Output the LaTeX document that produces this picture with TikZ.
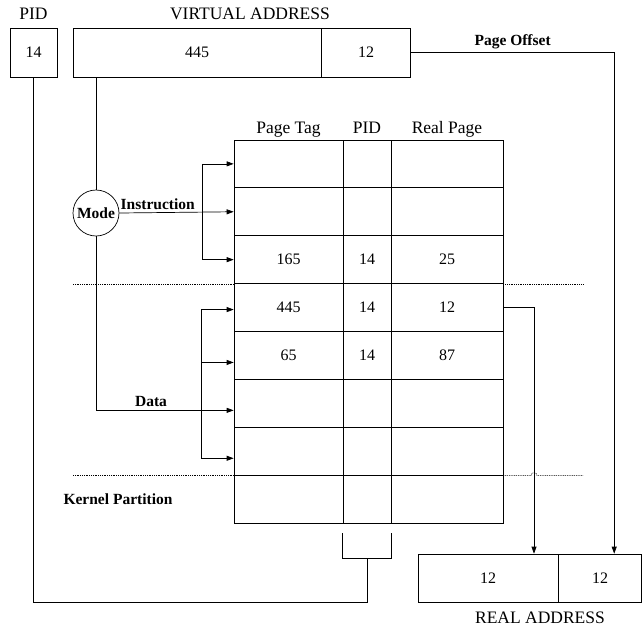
\documentclass[tikz,border=0pt]{standalone}
\usepackage{fontspec}
\setmainfont{Liberation Serif}
\usetikzlibrary{matrix, arrows.meta, positioning}

\begin{document}
\begin{tikzpicture}[
        x=1pt, y=-1pt,
        line width=0.7pt,
        >={Triangle[length=7pt, width=5pt]},
        every node/.style={font=\fontsize{16}{19}\selectfont},
        caixa/.style={draw, inner sep=0pt, minimum height=49pt},
        titulo/.style={anchor=base, font=\fontsize{17.5}{20}\selectfont},
        rotulo/.style={font=\fontsize{15.5}{18}\selectfont\bfseries},
        particao/.style={line width=0.5pt, dash pattern=on 1pt off 0.8pt},
        tabela/.style={matrix of nodes, nodes in empty cells,
            nodes={draw, inner sep=0pt, minimum height=47.9pt, anchor=center},
            column 1/.style={nodes={minimum width=109pt}},
            column 2/.style={nodes={minimum width=48pt}},
            column 3/.style={nodes={minimum width=112pt}},
            column sep=-\pgflinewidth, row sep=-\pgflinewidth}
    ]
    \useasboundingbox (0,0) rectangle (642,630);

    % endereco virtual
    \node[caixa, minimum width=47pt] (pid) at (33.5,52.5) {14};
    \node[caixa, minimum width=248pt] (vpag) at (197,52.5) {445};
    \node[caixa, minimum width=89pt, anchor=west] (vdesl) at (vpag.east) {12};
    \node[titulo] at ([yshift=8pt]pid.north) {PID};
    \node[titulo] at ([xshift=53pt, yshift=8pt]vpag.north) {VIRTUAL ADDRESS};

    % tabela de paginas
    \matrix (tlb) [tabela] at (368.5,331.5) {
          &    &    \\
          &    &    \\
      165 & 14 & 25 \\
      445 & 14 & 12 \\
      65  & 14 & 87 \\
          &    &    \\
          &    &    \\
          &    &    \\
    };
    \node[titulo] at ([yshift=6pt]tlb-1-1.north) {Page Tag};
    \node[titulo] at ([yshift=6pt]tlb-1-2.north) {PID};
    \node[titulo] at ([yshift=6pt]tlb-1-3.north) {Real Page};

    % endereco real
    \node[caixa, minimum width=140pt, minimum height=48pt] (rpag) at (488,578) {12};
    \node[caixa, minimum width=83pt, minimum height=48pt, anchor=west] (rdesl) at (rpag.east) {12};
    \node[titulo] at ([xshift=52pt, yshift=-21pt]rpag.south) {REAL ADDRESS};

    % modo
    \node[draw, circle, minimum size=46pt, inner sep=0pt, rotulo] (modo) at (96,213) {Mode};
    \draw (modo.north |- vpag.south) -- (modo.north);

    % instrucoes
    \coordinate (ibr) at (202,210);
    \draw[->] (modo.east) -- (tlb-2-1.west) node[pos=0, above right, inner sep=1pt, yshift=2pt, rotulo] {Instruction};
    \draw (ibr |- tlb-1-1) -- (ibr |- tlb-3-1);
    \foreach \i in {1,3}
        \draw[->] (ibr |- tlb-\i-1) -- (tlb-\i-1.west);

    % dados
    \coordinate (dbr) at (201,400);
    \coordinate (d4) at ([yshift=-2pt]tlb-4-1.west);
    \coordinate (d5) at ([yshift=-7pt]tlb-5-1.west);
    \coordinate (d6) at ([yshift=-7pt]tlb-6-1.west);
    \coordinate (d7) at ([yshift=-7pt]tlb-7-1.west);
    \draw[->] (modo.south) |- (d6) node[pos=0.7, above, rotulo] {Data};
    \draw (dbr |- d4) -- (dbr |- d7);
    \foreach \i in {4,5,7}
        \draw[->] (dbr |- d\i) -- (d\i);

    % particoes
    \draw[particao] (73,0 |- tlb-3-1.south west) -- (tlb-3-1.south west);
    \draw[particao] (tlb-3-3.south east) -- (583,0 |- tlb-3-3.south east);
    \draw[particao] (73,0 |- tlb-7-1.south west) -- (tlb-7-1.south west);
    \draw[particao] (tlb-7-3.south east) -- (531,0 |- tlb-7-3.south east)
        arc[start angle=180, end angle=360, radius=3] -- (583,0 |- tlb-7-3.south east);
    \node[rotulo] at (118,499) {Kernel Partition};

    % saidas
    \draw[->] (vdesl.east) -| ([xshift=14pt]rdesl.north) node[pos=0.25, above, rotulo] {Page Offset};
    \draw[->] (tlb-4-3.east) -| ([xshift=46pt]rpag.north);
    \coordinate (col) at ([yshift=-35pt]tlb-8-2.south);
    \draw ([yshift=-10pt]tlb-8-2.south west) |- (col) -| ([yshift=-10pt]tlb-8-2.south east);
    \draw (pid.south) |- (col |- rpag.south) -- (col);
\end{tikzpicture}
\end{document}
